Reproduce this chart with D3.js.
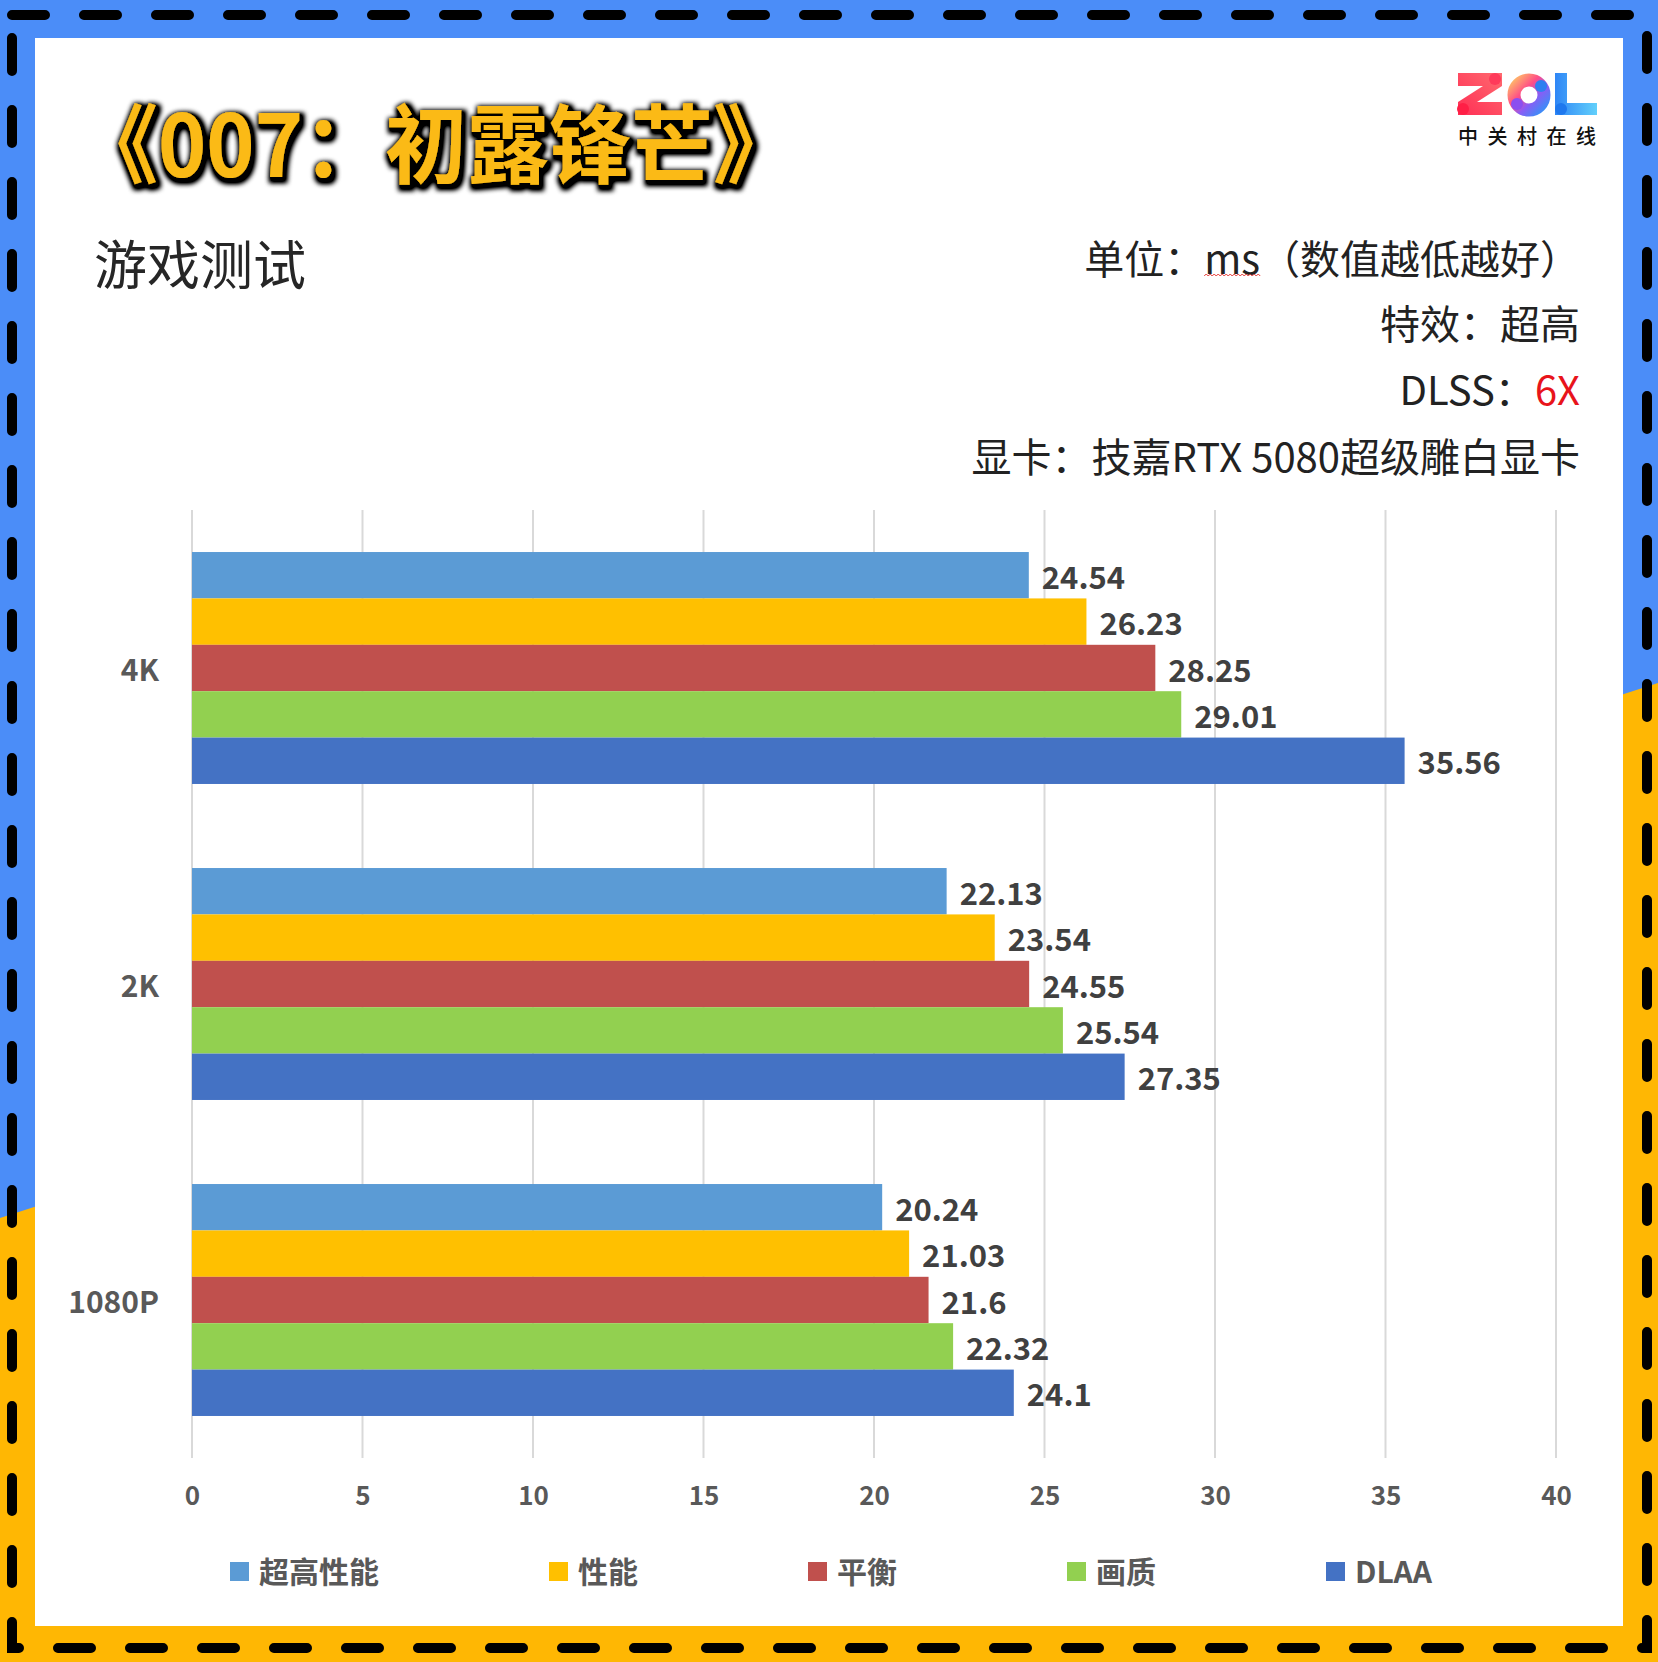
<!DOCTYPE html>
<html><head><meta charset="utf-8">
<script src="https://cdn.jsdelivr.net/npm/d3@7"></script>
<style>html,body{margin:0;padding:0;background:#fff;}svg{display:block;}</style>
</head><body>
<svg id="chart" width="1658" height="1662"></svg>
<script>
// ---- data ----
const categories = ["4K", "2K", "1080P"];
const seriesNames = ["超高性能", "性能", "平衡", "画质", "DLAA"];
const seriesColors = ["#5B9BD5", "#FFC000", "#C0504D", "#92D050", "#4472C4"];
const ultraPerformance = [24.54, 22.13, 20.24];
const performance = [26.23, 23.54, 21.03];
const balanced = [28.25, 24.55, 21.6];
const quality = [29.01, 25.54, 22.32];
const dlaa = [35.56, 27.35, 24.1];
const xTicks = [0, 5, 10, 15, 20, 25, 30, 35, 40];
const titleText = "《007：初露锋芒》";
const subtitleText = "游戏测试";
const infoLines = ["单位：ms（数值越低越好）", "特效：超高", "DLSS：", "显卡：技嘉RTX 5080超级雕白显卡"];
const dlssValue = "6X";

const seriesValues = [ultraPerformance, performance, balanced, quality, dlaa];
const rows = [];
categories.forEach((c, ci) => seriesNames.forEach((s, si) => rows.push({cat: c, series: s, color: seriesColors[si], value: seriesValues[si][ci]})));

const W = 1658, H = 1662;
const svg = d3.select("#chart");
const CJK = "'Noto Sans CJK SC','Noto Sans',sans-serif";

// ---- defs ----
const defs = svg.append("defs");
const glow = defs.append("filter").attr("id", "glow").attr("x", "-10%").attr("y", "-30%").attr("width", "120%").attr("height", "160%");
glow.append("feMorphology").attr("in", "SourceAlpha").attr("operator", "dilate").attr("radius", 3).attr("result", "d");
glow.append("feGaussianBlur").attr("in", "d").attr("stdDeviation", 2.5).attr("result", "b");
glow.append("feOffset").attr("in", "b").attr("dx", 2).attr("dy", 3).attr("result", "o");
glow.append("feComponentTransfer").attr("in", "o").attr("result", "o2")
  .append("feFuncA").attr("type", "linear").attr("slope", 1.4);
const gm = glow.append("feMerge");
gm.append("feMergeNode").attr("in", "o2");
gm.append("feMergeNode").attr("in", "SourceGraphic");

function lg(id, stops, x1, y1, x2, y2) {
  const g = defs.append("linearGradient").attr("id", id).attr("x1", x1).attr("y1", y1).attr("x2", x2).attr("y2", y2);
  stops.forEach(([o, c]) => g.append("stop").attr("offset", o).attr("stop-color", c));
}
lg("gz", [[0, "#FF2E55"], [1, "#FF6A6F"]], 0, 1, 1, 0);
lg("go", [[0, "#FFB36B"], [0.35, "#FF4E86"], [0.65, "#8A5CF5"], [1, "#3C8DF7"]], 0, 0, 1, 1);
lg("gl", [[0, "#2F86F6"], [1, "#62D0FB"]], 0, 0, 1, 0);

// ---- background frame ----
svg.append("rect").attr("width", W).attr("height", H).attr("fill", "#FFB703");
svg.append("polygon").attr("points", `0,0 ${W},0 ${W},683 0,1218`).attr("fill", "#4B8DF8");
svg.append("rect").attr("x", 12).attr("y", 15).attr("width", 1635).attr("height", 1633)
  .attr("fill", "none").attr("stroke", "#000").attr("stroke-width", 10)
  .attr("stroke-linecap", "round").attr("stroke-dasharray", "33 39");
svg.append("rect").attr("x", 35).attr("y", 38).attr("width", 1588).attr("height", 1588).attr("fill", "#fff");

// ---- title ----
svg.append("text").attr("x", 76).attr("y", 139).attr("dominant-baseline", "central")
  .attr("font-family", CJK).attr("font-weight", 700).attr("font-size", 86)
  .attr("textLength", 719).attr("lengthAdjust", "spacingAndGlyphs")
  .attr("fill", "#FBBA14").attr("filter", "url(#glow)").text(titleText);

svg.append("text").attr("x", 94).attr("y", 262).attr("dominant-baseline", "central")
  .attr("font-family", CJK).attr("font-size", 53).attr("fill", "#262626").text(subtitleText);

// ---- info lines ----
const infoY = [257, 322, 388, 455];
const info = svg.append("g").attr("font-family", CJK).attr("font-size", 40).attr("fill", "#222").attr("text-anchor", "end");
infoLines.forEach((t, i) => {
  const tx = info.append("text").attr("x", 1580).attr("y", infoY[i]).attr("dominant-baseline", "central");
  tx.append("tspan").text(t);
  if (i === 2) tx.append("tspan").attr("fill", "#E8141B").text(dlssValue);
  if (i === 0) {
    const node = tx.node();
    const idx = t.indexOf("ms");
    const start = node.getStartPositionOfChar(idx).x;
    const end = node.getEndPositionOfChar(idx + 1).x;
    let p = `M${start},${infoY[i] + 19}`;
    for (let xx = start; xx < end; xx += 4) p += ` l2,-2 l2,2`;
    svg.append("path").attr("d", p).attr("fill", "none").attr("stroke", "#E53935").attr("stroke-width", 1);
  }
});

// ---- logo ----
const logo = svg.append("g");
logo.append("polygon").attr("points", "1458,73 1502,73 1502,86 1477,102 1502,102 1502,115 1458,115 1458,102 1483,86 1458,86").attr("fill", "url(#gz)");
logo.append("circle").attr("cx", 1463).attr("cy", 109).attr("r", 6).attr("fill", "#FF1F46");
logo.append("circle").attr("cx", 1495).attr("cy", 79).attr("r", 6).attr("fill", "#FF3A5A");
logo.append("circle").attr("cx", 1529).attr("cy", 95).attr("r", 15).attr("fill", "none").attr("stroke", "url(#go)").attr("stroke-width", 13);
logo.append("circle").attr("cx", 1517).attr("cy", 104).attr("r", 6).attr("fill", "#8B4FF0");
logo.append("circle").attr("cx", 1541).attr("cy", 86).attr("r", 6).attr("fill", "#2F7FF0");
logo.append("path").attr("d", "M1555,73 H1567 V103 H1597 V115 H1555 Z").attr("fill", "url(#gl)");
logo.append("circle").attr("cx", 1561).attr("cy", 109).attr("r", 6).attr("fill", "#1F78EE");
logo.append("text").attr("x", 1458).attr("y", 135).attr("dominant-baseline", "central")
  .attr("font-family", CJK).attr("font-size", 20).attr("font-weight", 500).attr("letter-spacing", 9.5).attr("fill", "#111").text("中关村在线");

// ---- chart ----
const x = d3.scaleLinear().domain([0, 40]).range([192, 1556]);
const y0 = d3.scaleBand().domain(categories).range([510, 1458]).paddingInner(0.266).paddingOuter(0.133);
const y1 = d3.scaleBand().domain(seriesNames).range([0, y0.bandwidth()]);

const grid = svg.append("g");
grid.selectAll("line").data(xTicks).join("line")
  .attr("x1", d => x(d)).attr("x2", d => x(d)).attr("y1", 510).attr("y2", 1458)
  .attr("stroke", "#D9D9D9").attr("stroke-width", 2);

svg.append("g").selectAll("rect").data(rows).join("rect")
  .attr("x", x(0)).attr("y", d => y0(d.cat) + y1(d.series))
  .attr("width", d => x(d.value) - x(0)).attr("height", y1.bandwidth())
  .attr("fill", d => d.color);

svg.append("g").attr("font-family", CJK).attr("font-size", 31).attr("font-weight", 700).attr("fill", "#404040")
  .selectAll("text").data(rows).join("text")
  .attr("x", d => x(d.value) + 13).attr("y", d => y0(d.cat) + y1(d.series) + y1.bandwidth() / 2)
  .attr("dominant-baseline", "central").text(d => d.value);

// category axis labels
svg.append("g").attr("font-family", CJK).attr("font-size", 30).attr("font-weight", 700).attr("fill", "#595959").attr("text-anchor", "end")
  .selectAll("text").data(categories).join("text")
  .attr("x", 159).attr("y", d => y0(d) + y0.bandwidth() / 2).attr("dominant-baseline", "central").text(d => d);

// x axis via d3.axisBottom
const xAxis = svg.append("g").attr("transform", "translate(0,1487)")
  .call(d3.axisBottom(x).tickValues(xTicks).tickSize(0).tickPadding(0));
xAxis.select(".domain").remove();
xAxis.selectAll("text").attr("font-family", CJK).attr("font-size", 26).attr("font-weight", 700).attr("fill", "#595959").attr("dy", "0.71em");

// ---- legend ----
const legend = svg.append("g").attr("font-family", CJK).attr("font-size", 30).attr("font-weight", 700).attr("fill", "#595959");
let lx = 230;
seriesNames.forEach((s, i) => {
  legend.append("rect").attr("x", lx).attr("y", 1562).attr("width", 19).attr("height", 19).attr("fill", seriesColors[i]);
  const t = legend.append("text").attr("x", lx + 29).attr("y", 1570).attr("dominant-baseline", "central").text(s);
  lx += 29 + t.node().getComputedTextLength() + 170;
});
</script>
</body></html>
